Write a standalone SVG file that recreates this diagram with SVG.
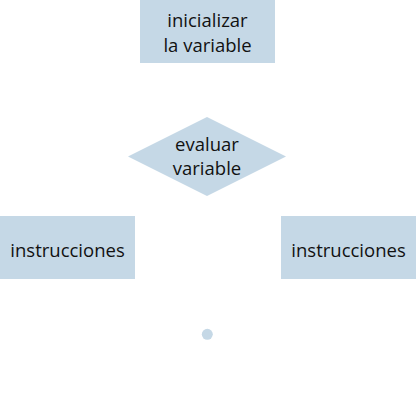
<svg xmlns="http://www.w3.org/2000/svg" width="416" height="406" viewBox="0 0 416 406">
<style>
.shape{fill:#c5d8e6;stroke:none}
.label{font-family:"Open Sans","Noto Sans","Liberation Sans",sans-serif;font-size:18.5px;fill:#111111;text-anchor:middle}
</style>
<rect width="416" height="406" fill="#ffffff"/>
<g id="connectors"></g>
<g id="init">
<rect class="shape" x="140" y="0" width="135" height="63"/>
<text class="label" x="207.5" y="27">inicializar</text>
<text class="label" x="207.5" y="52">la variable</text>
</g>
<g id="evaluate">
<polygon class="shape" points="207,117 286,156.5 207,196 128,156.5"/>
<text class="label" x="207" y="151">evaluar</text>
<text class="label" x="207" y="175">variable</text>
</g>
<g id="instr-left">
<rect class="shape" x="0" y="216" width="135" height="63"/>
<text class="label" x="67.5" y="257">instrucciones</text>
</g>
<g id="instr-right">
<rect class="shape" x="281" y="216" width="135" height="63"/>
<text class="label" x="348.5" y="257">instrucciones</text>
</g>
<g id="end">
<circle class="shape" cx="207.3" cy="334.3" r="5.5"/>
</g>
</svg>
